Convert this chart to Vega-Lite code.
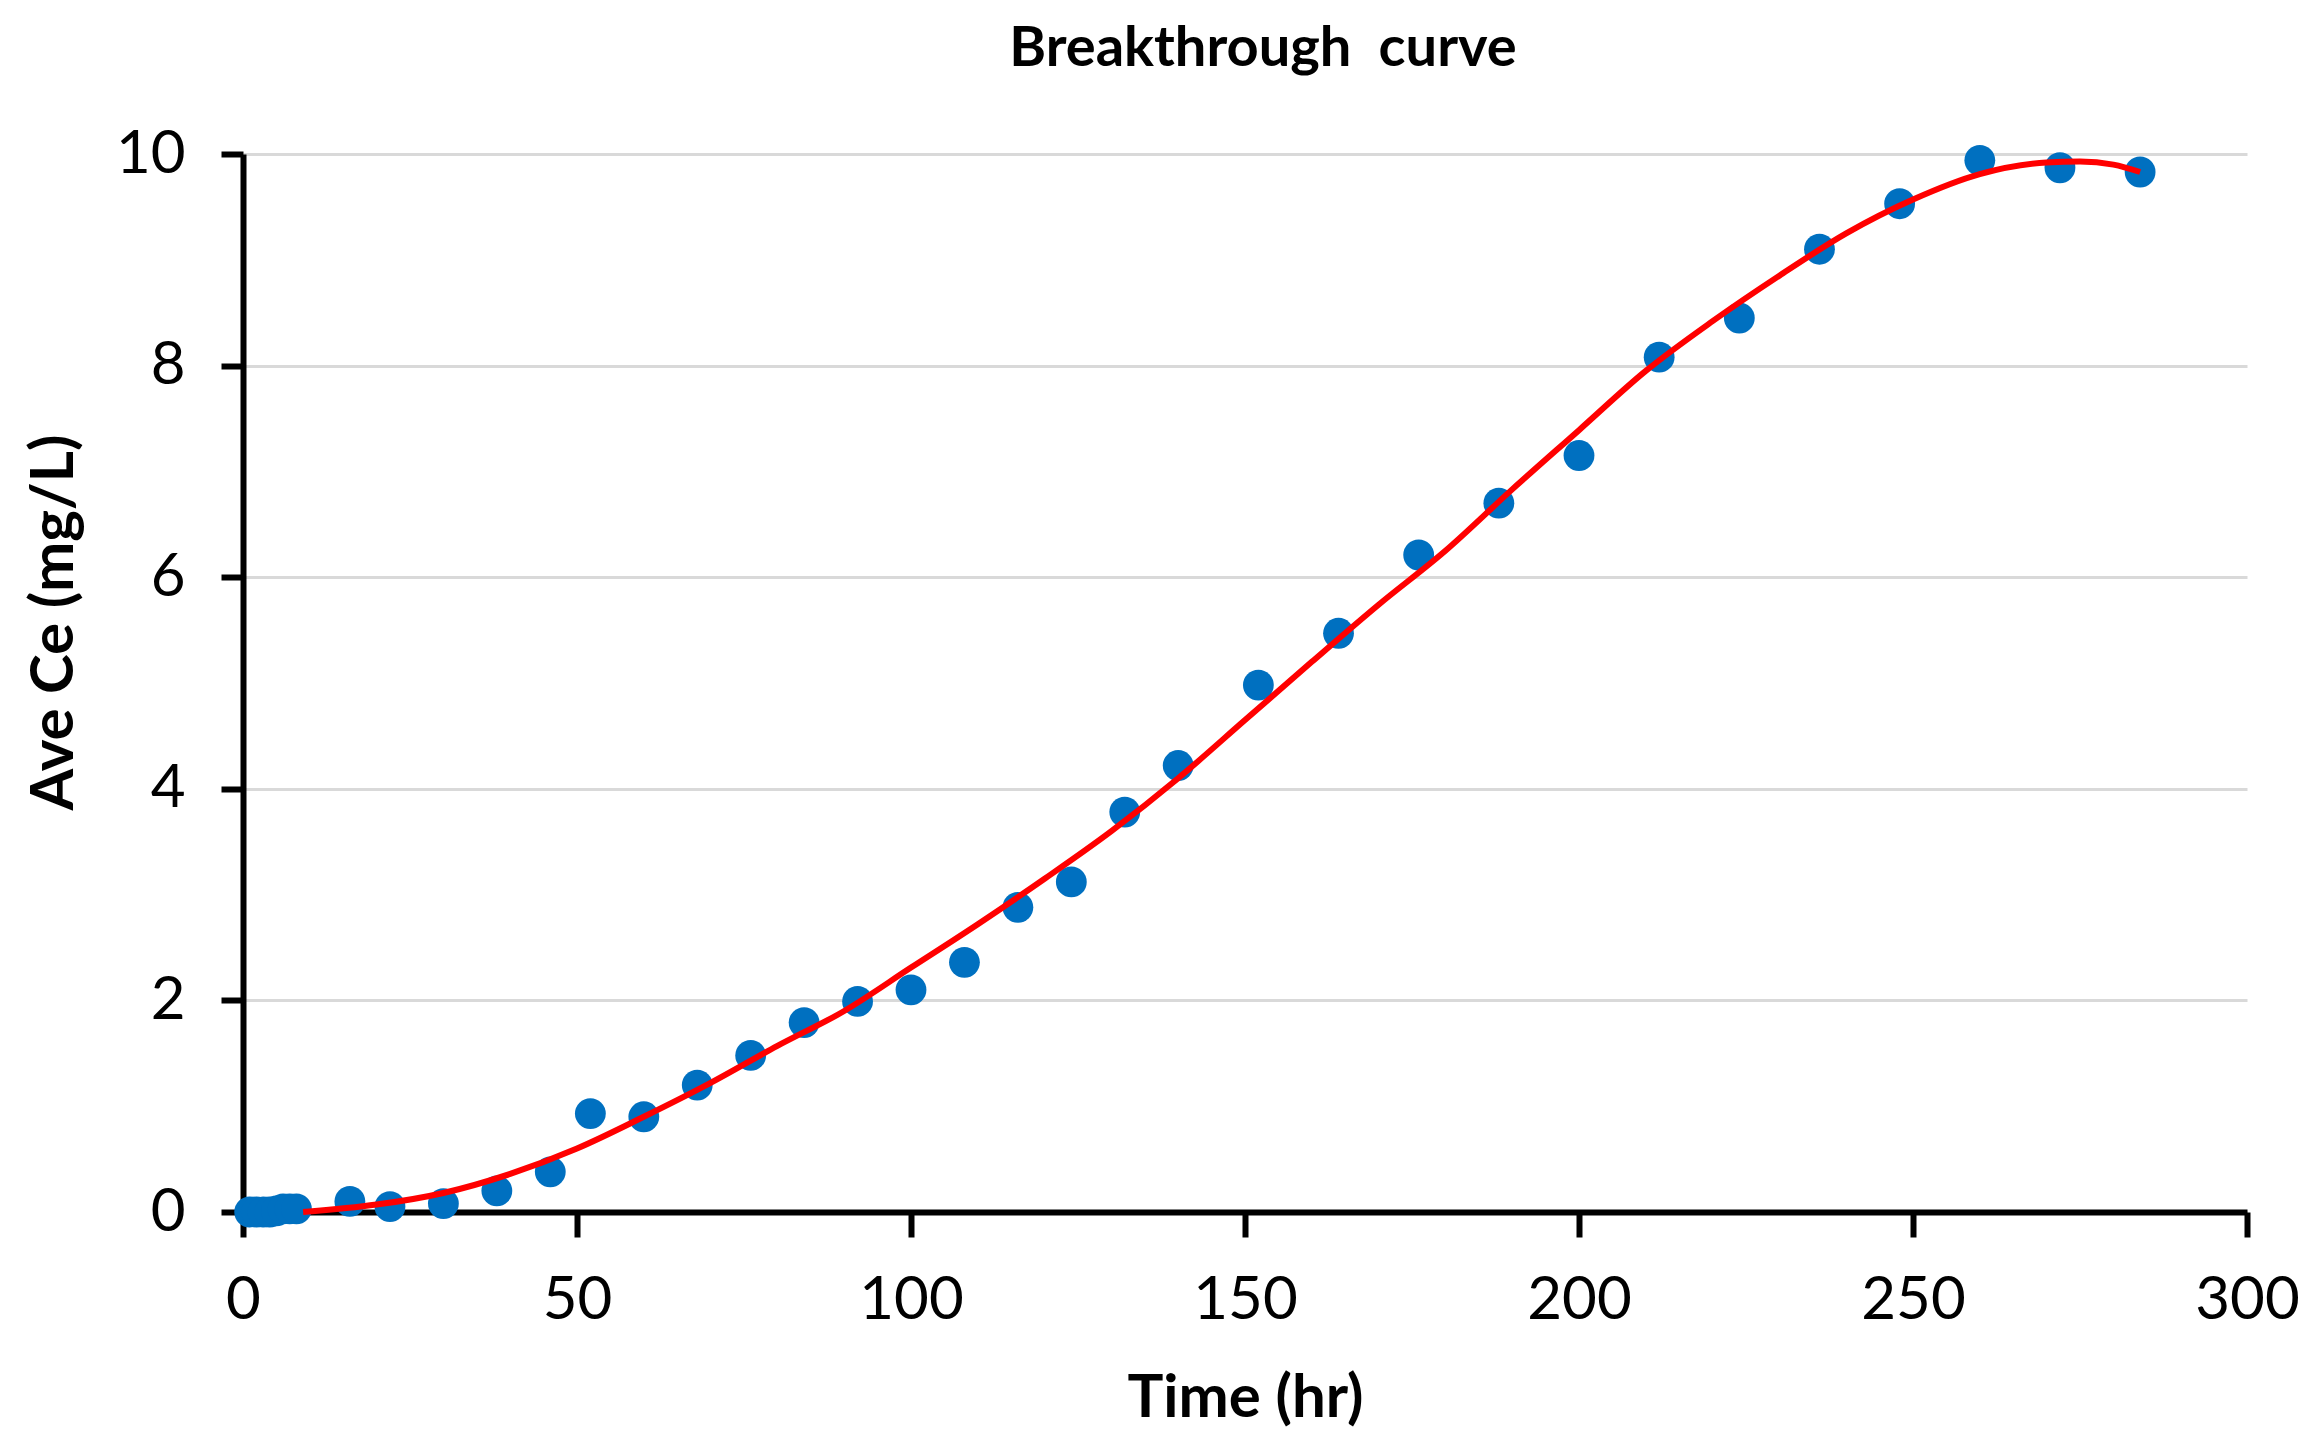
{
  "$schema": "https://vega.github.io/schema/vega-lite/v6.json",
  "autosize": {"type": "none"},
  "padding": {"left": 243, "top": 154, "right": 72, "bottom": 243},
  "width": 2004,
  "height": 1058,
  "background": "white",
  "title": {
    "text": "Breakthrough\u00a0 curve",
    "font": "Lato",
    "fontSize": 56,
    "fontWeight": "bold",
    "color": "black",
    "anchor": "middle",
    "baseline": "alphabetic",
    "offset": 2,
    "dx": 18
  },
  "datasets": {
    "points": [
      {"t": 1, "ce": 0}, {"t": 2, "ce": 0}, {"t": 3, "ce": 0}, {"t": 4, "ce": 0},
      {"t": 5, "ce": 0.01}, {"t": 6, "ce": 0.03}, {"t": 7, "ce": 0.03}, {"t": 8, "ce": 0.03},
      {"t": 16, "ce": 0.1}, {"t": 22, "ce": 0.05}, {"t": 30, "ce": 0.08}, {"t": 38, "ce": 0.2},
      {"t": 46, "ce": 0.38}, {"t": 52, "ce": 0.93}, {"t": 60, "ce": 0.9}, {"t": 68, "ce": 1.2},
      {"t": 76, "ce": 1.48}, {"t": 84, "ce": 1.79}, {"t": 92, "ce": 1.99}, {"t": 100, "ce": 2.1},
      {"t": 108, "ce": 2.36}, {"t": 116, "ce": 2.88}, {"t": 124, "ce": 3.12}, {"t": 132, "ce": 3.78},
      {"t": 140, "ce": 4.22}, {"t": 152, "ce": 4.98}, {"t": 164, "ce": 5.47}, {"t": 176, "ce": 6.21},
      {"t": 188, "ce": 6.7}, {"t": 200, "ce": 7.15}, {"t": 212, "ce": 8.08}, {"t": 224, "ce": 8.45},
      {"t": 236, "ce": 9.1}, {"t": 248, "ce": 9.53}, {"t": 260, "ce": 9.94}, {"t": 272, "ce": 9.87},
      {"t": 284, "ce": 9.83}
    ],
    "fit": [
      {"t": 9, "ce": 0}, {"t": 20, "ce": 0.07}, {"t": 30, "ce": 0.18}, {"t": 40, "ce": 0.36},
      {"t": 50, "ce": 0.6}, {"t": 60, "ce": 0.9}, {"t": 70, "ce": 1.22}, {"t": 80, "ce": 1.57},
      {"t": 90, "ce": 1.9}, {"t": 100, "ce": 2.31}, {"t": 110, "ce": 2.72}, {"t": 120, "ce": 3.15},
      {"t": 130, "ce": 3.6}, {"t": 140, "ce": 4.1}, {"t": 150, "ce": 4.65}, {"t": 160, "ce": 5.2},
      {"t": 170, "ce": 5.74}, {"t": 180, "ce": 6.25}, {"t": 190, "ce": 6.83}, {"t": 200, "ce": 7.39},
      {"t": 210, "ce": 7.95}, {"t": 220, "ce": 8.42}, {"t": 230, "ce": 8.85}, {"t": 240, "ce": 9.25},
      {"t": 250, "ce": 9.57}, {"t": 260, "ce": 9.81}, {"t": 270, "ce": 9.92}, {"t": 275, "ce": 9.93},
      {"t": 280, "ce": 9.9}, {"t": 284, "ce": 9.83}
    ]
  },
  "config": {
    "view": {"stroke": null},
    "axis": {
      "labelFont": "Lato",
      "labelFontSize": 60,
      "labelColor": "black",
      "labelFlush": false,
      "labelOverlap": false,
      "titleFont": "Lato",
      "titleFontSize": 60,
      "titleFontWeight": "bold",
      "titleColor": "black",
      "domainColor": "black",
      "domainWidth": 6,
      "tickColor": "black",
      "tickWidth": 6,
      "gridColor": "#D9D9D9",
      "gridWidth": 3
    }
  },
  "layer": [
    {
      "data": {"name": "points"},
      "mark": {"type": "point", "shape": "circle", "filled": true, "size": 950, "color": "#0070C0", "opacity": 1},
      "encoding": {
        "x": {
          "field": "t", "type": "quantitative",
          "scale": {"domain": [0, 300], "nice": false},
          "axis": {"title": "Time (hr)", "values": [0, 50, 100, 150, 200, 250, 300], "format": "d", "grid": false, "tickSize": 25, "labelPadding": 34, "titlePadding": 39}
        },
        "y": {
          "field": "ce", "type": "quantitative",
          "scale": {"domain": [0, 10], "nice": false},
          "axis": {"title": "Ave Ce (mg/L)", "values": [0, 2, 4, 6, 8, 10], "format": "d", "grid": true, "tickSize": 22, "labelPadding": 36, "titleX": -171, "titleY": 468, "titleBaseline": "alphabetic", "titleAngle": -90, "titleAnchor": "middle"}
        }
      }
    },
    {
      "data": {"name": "fit"},
      "mark": {"type": "line", "color": "#FF0000", "strokeWidth": 6, "interpolate": "monotone"},
      "encoding": {
        "x": {"field": "t", "type": "quantitative"},
        "y": {"field": "ce", "type": "quantitative"}
      }
    }
  ]
}
